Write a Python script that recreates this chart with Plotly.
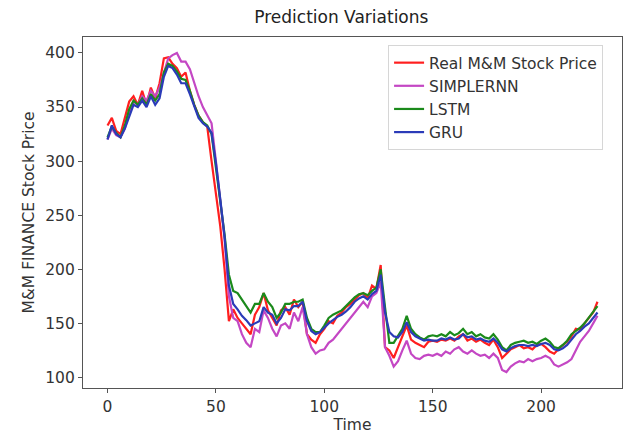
import plotly.graph_objects as go

time = list(range(0, 227, 2))

real = [333, 340, 328, 325, 340, 355, 360, 352, 365, 352, 368, 358, 372, 395, 396, 390, 386, 378, 382, 365,
        352, 342, 336, 332, 300, 270, 240, 200, 152, 163, 155, 150, 145, 140, 158, 165, 178, 162, 155, 148,
        162, 165, 158, 172, 165, 170, 140, 135, 132, 140, 145, 152, 150, 157, 160, 165, 168, 172, 176, 178,
        173, 185, 182, 204, 128, 125, 118, 128, 138, 148, 135, 132, 130, 128, 133, 134, 133, 135, 134, 136,
        134, 138, 140, 134, 136, 133, 135, 132, 130, 135, 128, 118, 122, 126, 128, 130, 127, 128, 126, 130,
        131, 128, 124, 122, 126, 130, 133, 138, 145, 144, 150, 155, 160, 170]

simplernn = [320, 330, 324, 322, 330, 345, 355, 352, 360, 356, 365, 360, 368, 382, 395, 398, 400, 392, 392, 385,
             372, 360, 350, 342, 335, 300, 265, 228, 175, 155, 152, 140, 132, 128, 145, 142, 162, 155, 145, 138,
             148, 150, 145, 160, 152, 165, 140, 128, 122, 125, 126, 132, 135, 140, 145, 150, 155, 160, 166, 170,
             165, 175, 178, 188, 128, 120, 110, 115, 125, 134, 122, 118, 117, 120, 121, 120, 122, 120, 124, 122,
             126, 128, 124, 122, 125, 122, 120, 121, 118, 122, 118, 107, 105, 110, 113, 115, 114, 117, 115, 117,
             118, 120, 118, 112, 110, 112, 114, 117, 125, 133, 138, 143, 150, 157]

lstm = [322, 332, 326, 322, 333, 348, 356, 352, 358, 352, 362, 356, 362, 382, 390, 388, 383, 376, 375, 365,
        352, 342, 336, 333, 325, 295, 262, 232, 195, 180, 178, 172, 166, 160, 168, 168, 178, 170, 165, 155,
        160, 168, 168, 170, 170, 172, 155, 145, 142, 142, 148, 155, 158, 160, 162, 166, 170, 174, 177, 178,
        176, 180, 183, 200, 165, 132, 132, 138, 145, 157, 145, 140, 137, 135, 138, 139, 138, 140, 138, 142,
        139, 141, 145, 140, 142, 138, 140, 137, 136, 140, 135, 128, 125, 130, 132, 133, 134, 132, 133, 131,
        134, 136, 133, 128, 127, 130, 134, 140, 143, 146, 150, 155, 160, 166]

gru = [320, 333, 325, 322, 330, 342, 352, 350, 356, 350, 360, 352, 358, 378, 388, 386, 380, 372, 372, 362,
       350, 340, 335, 332, 326, 298, 265, 230, 185, 168, 163, 157, 153, 148, 150, 152, 165, 160, 158, 150,
       155, 163, 162, 166, 166, 170, 152, 143, 140, 142, 146, 150, 153, 156, 158, 161, 165, 170, 173, 175,
       172, 177, 180, 195, 160, 142, 138, 137, 142, 151, 142, 138, 136, 134, 135, 134, 134, 136, 135, 137,
       135, 136, 140, 137, 138, 135, 136, 134, 133, 136, 132, 126, 124, 127, 129, 130, 130, 129, 130, 129,
       131, 132, 130, 126, 125, 127, 130, 135, 140, 143, 147, 150, 155, 160]

names = ["Real M&M Stock Price", "SIMPLERNN", "LSTM", "GRU"]
colors = ["#ff1f1f", "#c447c4", "#1b8a1b", "#2b3bb8"]
series = [real, simplernn, lstm, gru]

fig = go.Figure()
for name, col, ys in zip(names, colors, series):
    fig.add_trace(go.Scatter(x=time, y=ys, mode="lines", name=name,
                             line=dict(color=col, width=2.2)))

font_family = "DejaVu Sans, Arial, sans-serif"
fig.update_layout(
    width=624, height=434,
    margin=dict(l=83, r=2, t=37, b=46),
    paper_bgcolor="white", plot_bgcolor="white",
    font=dict(family=font_family, size=15.5, color="#333333"),
    title=dict(text="Prediction Variations", x=0.547, xanchor="center", y=0.96, yanchor="middle",
               font=dict(size=17, color="#222222")),
    legend=dict(x=0.566, y=0.977, xanchor="left", yanchor="top",
                bgcolor="rgba(255,255,255,0.9)", bordercolor="#d6d6d6", borderwidth=1,
                font=dict(size=15.5, color="#333333")),
    showlegend=True,
)
fig.update_xaxes(range=[-11.3, 237.3], tickvals=[0, 50, 100, 150, 200], automargin=False,
                 showgrid=False, zeroline=False, showline=True, mirror=True,
                 linecolor="#555555", linewidth=1.2, ticks="outside", ticklen=4,
                 tickcolor="#555555", tickfont=dict(size=15.5),
                 title=dict(text="Time", standoff=9, font=dict(size=15.5)))
fig.update_yaxes(range=[90.25, 414.75], tickvals=[100, 150, 200, 250, 300, 350, 400], automargin=False,
                 showgrid=False, zeroline=False, showline=True, mirror=True,
                 linecolor="#555555", linewidth=1.2, ticks="outside", ticklen=4,
                 tickcolor="#555555", tickfont=dict(size=15.5),
                 title=dict(text="M&M FINANCE Stock Price", standoff=6, font=dict(size=15.5)))

fig.write_html("out.html")
